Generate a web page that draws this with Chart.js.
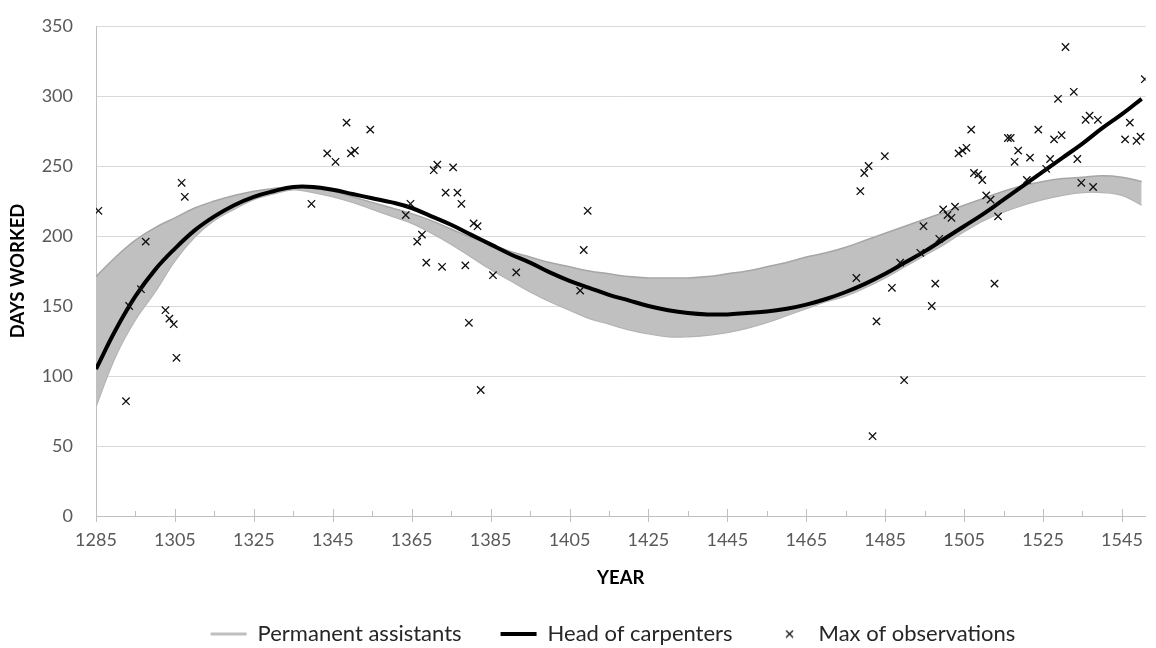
<!DOCTYPE html>
<html>
<head>
<meta charset="utf-8">
<script src="https://cdn.jsdelivr.net/npm/chart.js@4.4.1/dist/chart.umd.min.js"></script>
<style>
  html, body { margin: 0; padding: 0; background: #fff; }
  #wrap { width: 1156px; height: 648px; }
</style>
</head>
<body>
<div id="wrap"><canvas id="chart"></canvas></div>
<script>
// Fitted curves, read every 5 years
const curveYears = [
  1285, 1290, 1295, 1300, 1305, 1310, 1315, 1320, 1325, 1330, 1335, 1340, 1345, 1350,
  1355, 1360, 1365, 1370, 1375, 1380, 1385, 1390, 1395, 1400, 1405, 1410, 1415, 1420,
  1425, 1430, 1435, 1440, 1445, 1450, 1455, 1460, 1465, 1470, 1475, 1480, 1485, 1490,
  1495, 1500, 1505, 1510, 1515, 1520, 1525, 1530, 1535, 1540, 1545, 1550
];
const assistantsUpper = [
  171, 185, 197, 206, 213, 220, 225, 229, 232, 234, 235, 234, 232, 228,
  224, 220, 216, 211, 205, 199, 194, 189, 185, 181, 178, 175, 173, 171,
  170, 170, 170, 171, 173, 175, 178, 181, 185, 188, 192, 197, 202, 207,
  212, 217, 222, 227, 232, 236, 239, 241, 242, 243, 242, 239
];
const assistantsLower = [
  78, 114, 140, 160, 182, 199, 211, 219, 226, 230, 233, 231, 228, 224,
  219, 214, 209, 202, 194, 185, 176, 168, 160, 153, 147, 141, 137, 133,
  130, 128, 128, 129, 131, 134, 138, 143, 148, 153, 157, 163, 170, 178,
  186, 194, 203, 211, 217, 222, 226, 229, 231, 231, 229, 222
];
const headCarpenters = [
  105, 133, 157, 176, 191, 204, 214, 222, 228, 232, 235, 235, 233, 230,
  227, 224, 220, 214, 208, 201, 194, 187, 181, 174, 168, 163, 158, 154,
  150, 147, 145, 144, 144, 145, 146, 148, 151, 155, 160, 166, 173, 181,
  189, 198, 207, 216, 226, 236, 246, 256, 266, 277, 287, 298
];

// Max of observations
const obsYears = [
  1285.6, 1292.6, 1293.4, 1296.4, 1297.6, 1302.6, 1303.6, 1304.7, 1305.4, 1306.7, 1307.5,
  1339.6, 1343.6, 1345.7, 1348.5, 1349.6, 1350.6, 1354.5, 1363.5, 1364.7, 1366.4, 1367.6,
  1368.7, 1370.6, 1371.5, 1372.7, 1373.6, 1375.5, 1376.6, 1377.6, 1378.6, 1379.5, 1380.7,
  1381.7, 1382.5, 1385.6, 1391.5, 1407.7, 1408.6, 1409.6,
  1477.7, 1478.7, 1479.7, 1480.8, 1481.8, 1482.8, 1484.9, 1486.7, 1488.8, 1489.8, 1493.9,
  1494.7, 1496.8, 1497.7, 1498.7, 1499.7, 1500.8, 1501.8, 1502.7, 1503.6, 1504.6, 1505.6,
  1506.8, 1507.5, 1508.6, 1509.6, 1510.6, 1511.7, 1512.7, 1513.6, 1516.1, 1516.8, 1517.8,
  1518.7, 1520.9, 1521.7, 1523.8, 1525.8, 1526.8, 1527.8, 1528.8, 1529.7, 1530.7, 1532.8,
  1533.7, 1534.7, 1535.8, 1536.8, 1537.7, 1538.9, 1545.8, 1547.0, 1548.7, 1549.7, 1550.8
];
const obsDays = [
  218, 82, 150, 162, 196, 147, 141, 137, 113, 238, 228,
  223, 259, 253, 281, 259, 261, 276, 215, 223, 196, 201,
  181, 247, 251, 178, 231, 249, 231, 223, 179, 138, 209,
  207, 90, 172, 174, 161, 190, 218,
  170, 232, 245, 250, 57, 139, 257, 163, 181, 97, 188,
  207, 150, 166, 198, 219, 215, 213, 221, 259, 261, 263,
  276, 245, 244, 240, 229, 226, 166, 214, 270, 270, 253,
  261, 240, 256, 276, 248, 255, 269, 298, 272, 335, 303,
  255, 238, 283, 286, 235, 283, 269, 281, 268, 271, 312
];

const yearTicks = [1285, 1305, 1325, 1345, 1365, 1385, 1405, 1425, 1445, 1465, 1485, 1505, 1525, 1545];
const yearMinorTicks = [1295, 1315, 1335, 1355, 1375, 1395, 1415, 1435, 1455, 1475, 1495, 1515, 1535];
const dayTicks = [0, 50, 100, 150, 200, 250, 300, 350];

const FONT = 'Lato, "Noto Sans", sans-serif';

const pts = (xs, ys) => xs.map((x, i) => ({ x, y: ys[i] }));

// small x marker for the legend (built-in crossRot gets stretched by pointStyleWidth)
function makeCrossIcon() {
  const c = document.createElement('canvas');
  c.width = 9; c.height = 9;
  const g = c.getContext('2d');
  g.strokeStyle = '#111';
  g.lineWidth = 1.3;
  g.beginPath();
  g.moveTo(1, 1); g.lineTo(8, 8);
  g.moveTo(8, 1); g.lineTo(1, 8);
  g.stroke();
  return c;
}
const crossIcon = makeCrossIcon();

// Excel-style tick marks on the year axis (major cross, minor inside)
const yearTickMarks = {
  id: 'yearTickMarks',
  afterLayout(chart) {
    // Excel centres the legend a bit right of the canvas centre
    chart.legend.left += 39;
    chart.legend.right += 39;
  },
  afterDraw(chart) {
    const { ctx, scales: { x }, chartArea } = chart;
    const y0 = chartArea.bottom;
    ctx.save();
    ctx.strokeStyle = '#bfbfbf';
    ctx.lineWidth = 1;
    ctx.beginPath();
    yearTicks.forEach(v => {
      const px = Math.round(x.getPixelForValue(v)) + 0.5;
      ctx.moveTo(px, y0 - 7);
      ctx.lineTo(px, y0 + 6);
    });
    yearMinorTicks.forEach(v => {
      const px = Math.round(x.getPixelForValue(v)) + 0.5;
      ctx.moveTo(px, y0 - 5);
      ctx.lineTo(px, y0);
    });
    ctx.stroke();
    ctx.restore();
  }
};

new Chart(document.getElementById('chart'), {
  type: 'scatter',
  data: {
    datasets: [
      {
        label: 'Permanent assistants',
        data: pts(curveYears, assistantsUpper),
        showLine: true,
        borderColor: '#a6a6a6',
        borderWidth: 1.5,
        pointRadius: 0,
        tension: 0.4,
        fill: false,
        order: 3
      },
      {
        label: 'lower',
        data: pts(curveYears, assistantsLower),
        showLine: true,
        borderColor: '#b4b4b4',
        borderWidth: 1.2,
        backgroundColor: '#c0c0c0',
        pointRadius: 0,
        tension: 0.4,
        fill: '-1',
        order: 4
      },
      {
        label: 'Head of carpenters',
        data: pts(curveYears, headCarpenters),
        showLine: true,
        borderColor: '#000000',
        borderWidth: 4,
        pointRadius: 0,
        tension: 0.4,
        fill: false,
        order: 2
      },
      {
        label: 'Max of observations',
        data: pts(obsYears, obsDays),
        showLine: false,
        pointStyle: 'crossRot',
        pointRadius: 5.2,
        pointBorderWidth: 1.3,
        borderColor: '#111111',
        borderWidth: 1.3,
        backgroundColor: '#111111',
        order: 1
      }
    ]
  },
  options: {
    responsive: true,
    maintainAspectRatio: false,
    animation: false,
    layout: { autoPadding: false, padding: { left: 0, right: 8, top: 26, bottom: -7 } },
    plugins: {
      tooltip: { enabled: false },
      legend: {
        position: 'bottom',
        labels: {
          usePointStyle: true,
          pointStyleWidth: 36,
          boxHeight: 7,
          padding: 39,
          color: '#262626',
          font: { family: FONT, size: 22 },
          filter: item => item.datasetIndex !== 1,
          sort: (a, b) => a.datasetIndex - b.datasetIndex,
          generateLabels: chart => {
            const items = Chart.defaults.plugins.legend.labels.generateLabels(chart);
            items.forEach(it => {
              if (it.datasetIndex === 0) {
                it.pointStyle = 'line'; it.strokeStyle = '#bfbfbf'; it.lineWidth = 3;
              } else if (it.datasetIndex === 2) {
                it.pointStyle = 'line'; it.strokeStyle = '#000'; it.lineWidth = 4;
              } else if (it.datasetIndex === 3) {
                it.pointStyle = crossIcon;
              }
            });
            return items;
          }
        }
      }
    },
    scales: {
      x: {
        type: 'linear',
        min: 1285,
        max: 1551,
        afterFit: s => { s.height = 68; },
        afterBuildTicks: s => { s.ticks = yearTicks.map(v => ({ value: v })); },
        grid: { drawOnChartArea: false, drawTicks: false },
        border: { display: true, color: '#bfbfbf', width: 1 },
        ticks: {
          padding: 13,
          maxRotation: 0,
          autoSkip: false,
          color: '#595959',
          font: { family: FONT, size: 18 },
          callback: v => String(v)
        },
        title: {
          display: true,
          text: 'YEAR',
          color: '#000',
          font: { family: FONT, size: 18.5, weight: 'bold' },
          padding: { top: 0, bottom: -5 }
        }
      },
      y: {
        min: 0,
        max: 350,
        afterFit: s => {
          s.width = 96;
          // label padding shouldn't push the plot top down
          s.paddingTop = 0;
          s.paddingBottom = 0;
        },
        afterBuildTicks: s => { s.ticks = dayTicks.map(v => ({ value: v })); },
        grid: { color: '#d9d9d9', lineWidth: 1, drawTicks: false },
        border: { display: true, color: '#bfbfbf', width: 1 },
        ticks: {
          padding: 23,
          color: '#595959',
          font: { family: FONT, size: 18 }
        },
        title: {
          display: true,
          text: 'DAYS WORKED',
          color: '#000',
          font: { family: FONT, size: 18.5, weight: 'bold' },
          padding: { top: 7, bottom: 0 }
        }
      }
    }
  },
  plugins: [yearTickMarks]
});
</script>
</body>
</html>
